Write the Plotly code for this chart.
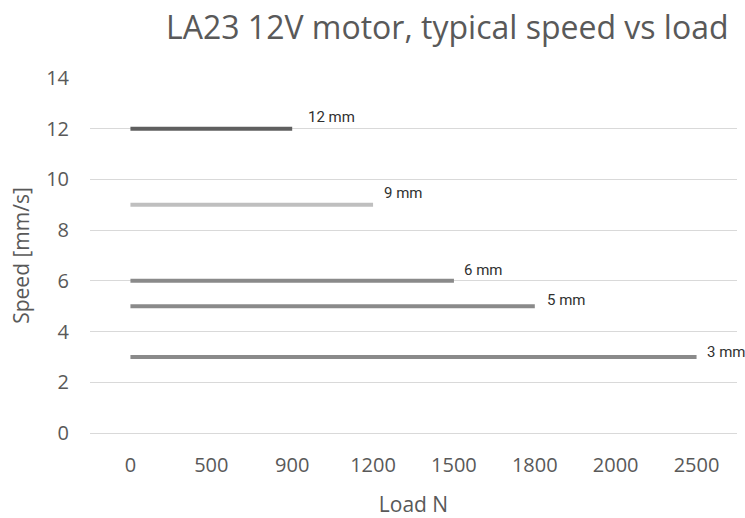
import plotly.graph_objects as go

categories = ["0", "500", "900", "1200", "1500", "1800", "2000", "2500"]
series_names = ["12 mm", "9 mm", "6 mm", "5 mm", "3 mm"]
series_speed = [12, 9, 6, 5, 3]
series_end = ["900", "1200", "1500", "1800", "2500"]

colors = ["#5f5f5f", "#bfbfbf", "#8a8a8a", "#8a8a8a", "#8a8a8a"]
label_xshift = [14, 9, 8, 10, 8]
label_yshift = [12, 12, 11, 6, 5]

fig = go.Figure()
for name, spd, end, col, xs_, ys in zip(series_names, series_speed, series_end, colors,
                                          label_xshift, label_yshift):
    xs = categories[:categories.index(end) + 1]
    fig.add_trace(go.Scatter(x=xs, y=[spd] * len(xs), mode="lines", name=name,
                             line=dict(color=col, width=4), showlegend=False))
    fig.add_annotation(x=categories.index(end), y=spd, text=name, showarrow=False,
                       xanchor="left", yanchor="middle", xshift=xs_, yshift=ys,
                       font=dict(family="Roboto, sans-serif", size=15, color="#303030"))

fig.add_annotation(xref="paper", yref="paper", x=1.0, y=1, xanchor="right", yanchor="bottom",
                   xshift=-6, yshift=28, text="LA23 12V motor, typical speed vs load",
                   showarrow=False,
                   font=dict(family="Open Sans, sans-serif", size=32, color="#595959"))

fig.update_layout(
    width=745, height=518, margin=dict(l=90, r=8, t=78, b=85, autoexpand=False),
    plot_bgcolor="white", paper_bgcolor="white",
    xaxis=dict(type="category", categoryorder="array", categoryarray=categories,
               range=[-0.5, 7.5], showgrid=False, showline=True, linecolor="#d9d9d9",
               linewidth=1, ticks="", ticklabelstandoff=14, automargin=False,
               tickfont=dict(family="Open Sans, sans-serif", size=20, color="#595959"),
               title=dict(text="Load N", standoff=20,
                          font=dict(family="Open Sans, sans-serif", size=21, color="#595959"))),
    yaxis=dict(range=[0, 14], dtick=2, showgrid=True, gridcolor="#d9d9d9", zeroline=False,
               ticks="", ticklabelstandoff=20, automargin=False,
               tickfont=dict(family="Open Sans, sans-serif", size=20, color="#595959"),
               title=dict(text="Speed [mm/s]", standoff=10,
                          font=dict(family="Open Sans, sans-serif", size=21, color="#595959"))),
)
fig.write_html("out.html", config={"displayModeBar": False},
               post_script="document.body.style.margin='0';")
